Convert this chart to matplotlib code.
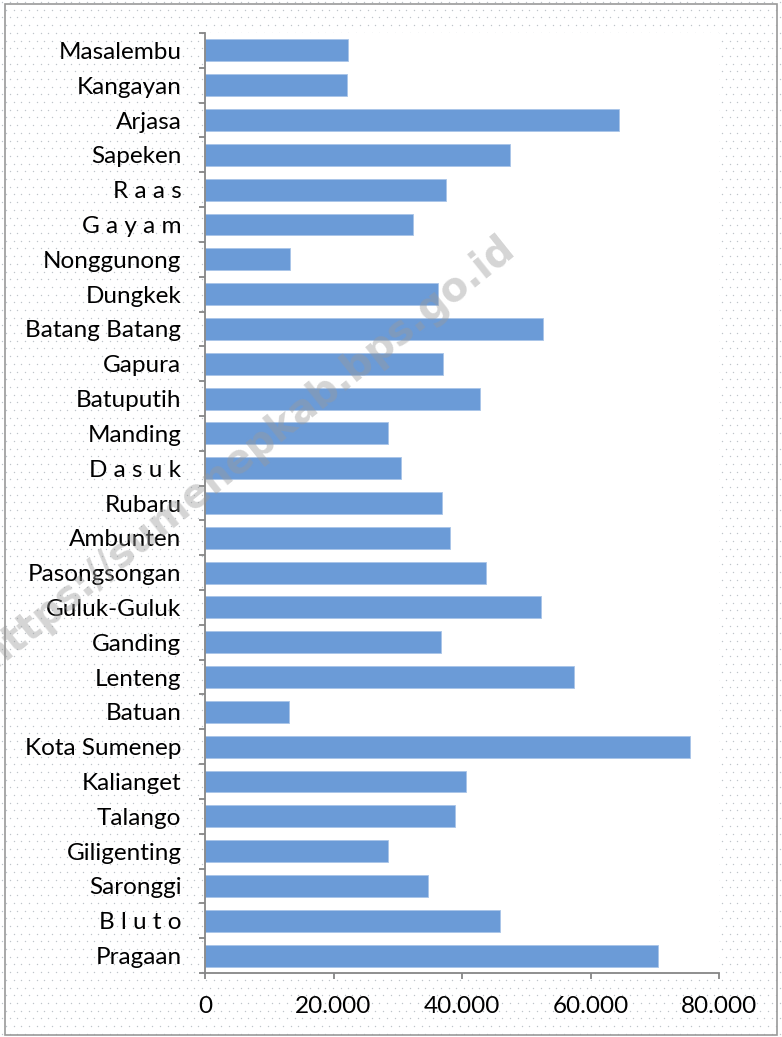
import numpy as np
from matplotlib import pyplot as plt
from matplotlib.ticker import FixedLocator, FuncFormatter
from matplotlib.patches import Rectangle

# kecamatan, bottom to top as in the chart
kecamatan = [
    "Pragaan", "B l u t o", "Saronggi", "Giligenting", "Talango",
    "Kalianget", "Kota Sumenep", "Batuan", "Lenteng", "Ganding",
    "Guluk-Guluk", "Pasongsongan", "Ambunten", "Rubaru", "D a s u k",
    "Manding", "Batuputih", "Gapura", "Batang Batang", "Dungkek",
    "Nonggunong", "G a y a m", "R a a s", "Sapeken", "Arjasa",
    "Kangayan", "Masalembu",
]
nilai = [
    70500, 45900, 34700, 28500, 38900,
    40600, 75500, 13100, 57400, 36700,
    52300, 43700, 38100, 36900, 30500,
    28500, 42800, 37000, 52600, 36300,
    13200, 32400, 37500, 47500, 64400,
    22100, 22300,
]
x_ticks = [0, 20000, 40000, 60000, 80000]

W, H = 782, 1037
fig = plt.figure(figsize=(W / 100, H / 100), dpi=100)
fig.patch.set_facecolor("white")

# dotted background like the source sheet
bg = fig.add_axes([0, 0, 1, 1], zorder=-5)
bg.set_xlim(0, W)
bg.set_ylim(H, 0)
bg.axis("off")
step = 7.7
dx, dy = [], []
for j, yy in enumerate(np.arange(2, H, step)):
    off = 0 if j % 2 == 0 else step / 2
    for xx in np.arange(2 + off, W, step):
        dx.append(xx)
        dy.append(yy)
bg.scatter(dx, dy, s=1.0, c="#bfc4c9", linewidths=0)
bg.add_patch(Rectangle((5, 4), W - 10, H - 6, fill=False, ec="#9a9a9a", lw=1.2))

ax = fig.add_axes([205 / W, (H - 973) / H, 514 / W, 940 / H])
ax.set_facecolor("white")

pos = np.arange(len(kecamatan))
ax.barh(pos, nilai, height=0.63, color="#6b9bd7", edgecolor="#a9c4e8", linewidth=0.6, zorder=2)

ax.set_xlim(0, 80000)
ax.set_ylim(-0.5, len(kecamatan) - 0.5)

for s in ["top", "right"]:
    ax.spines[s].set_visible(False)
for s in ["left", "bottom"]:
    ax.spines[s].set_color("#868686")
    ax.spines[s].set_linewidth(1.3)

ax.set_yticks(pos)
ax.set_yticklabels(kecamatan)
ax.yaxis.set_minor_locator(FixedLocator(np.arange(-0.5, len(kecamatan), 1.0)))
ax.tick_params(axis="y", which="major", length=0, pad=17)
ax.tick_params(axis="y", which="minor", length=4.5, width=1.3, color="#868686")

ax.set_xticks(x_ticks)
ax.xaxis.set_major_formatter(FuncFormatter(lambda v, p: "0" if v == 0 else f"{v:,.0f}".replace(",", ".")))
ax.tick_params(axis="x", length=4.5, width=1.3, color="#868686", pad=12)

for lab in ax.get_yticklabels() + ax.get_xticklabels():
    lab.set_fontfamily(["Lato", "DejaVu Sans"])
    lab.set_fontsize(17.5)
    lab.set_color("black")

# watermark (runs off the left edge, as in the source image)
fig.text(248 / W, 1 - 452 / H, "https://sumenepkab.bps.go.id", rotation=38.6,
         ha="center", va="center", fontsize=28.5, fontweight="bold",
         color="#9a9a9a", alpha=0.42, family="DejaVu Sans", zorder=10)

fig.savefig("out.png", dpi=100)
